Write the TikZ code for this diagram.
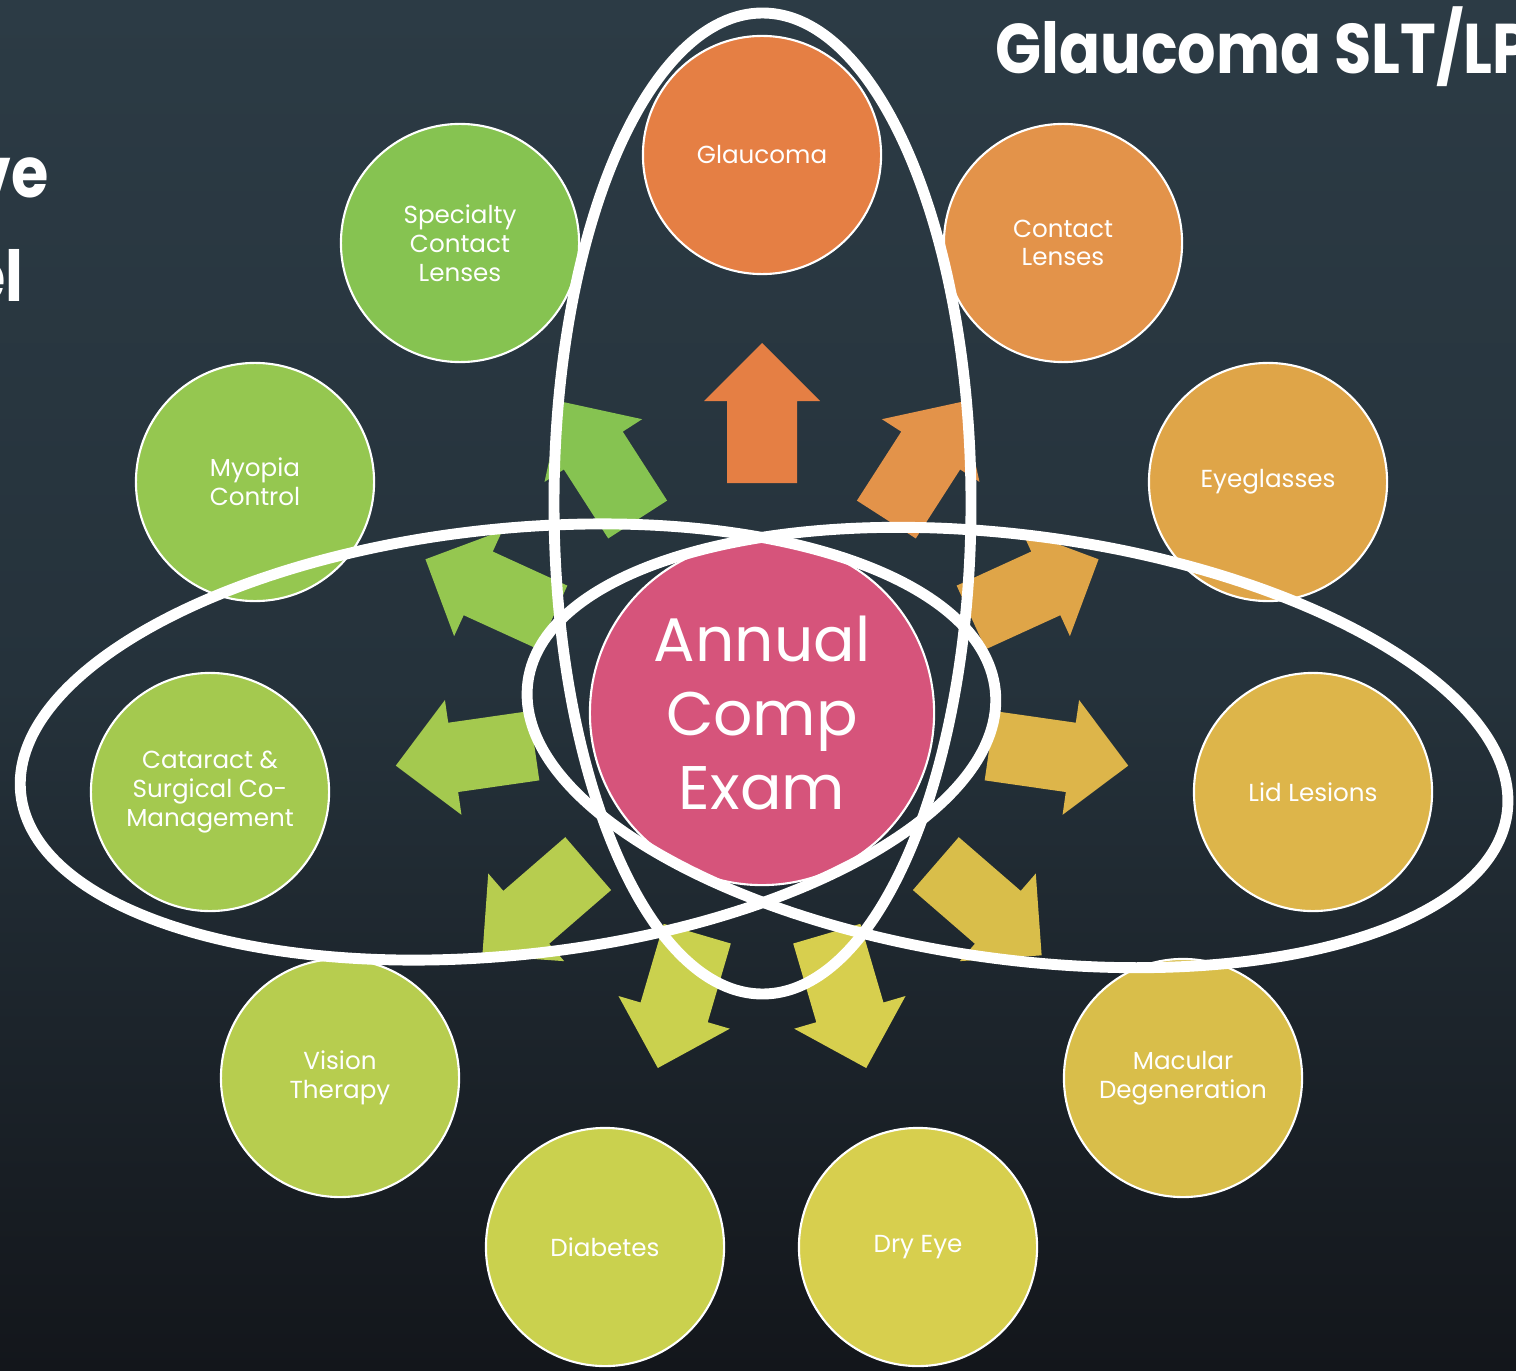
\documentclass[tikz,border=0pt]{standalone}
\usepackage{fontspec}
\setmainfont{Poppins}
\definecolor{bgtop}{HTML}{2C3B45}
\definecolor{bgmid}{HTML}{25323B}
\definecolor{bgbot}{HTML}{13161B}
\definecolor{cExam}{HTML}{D6547B}
\definecolor{cGlaucoma}{HTML}{E57F44}
\definecolor{cContact}{HTML}{E3934A}
\definecolor{cGlasses}{HTML}{DFA548}
\definecolor{cLid}{HTML}{DDB54A}
\definecolor{cMacular}{HTML}{D9BE4A}
\definecolor{cDry}{HTML}{D7CF4E}
\definecolor{cDiabetes}{HTML}{CAD14E}
\definecolor{cVision}{HTML}{B7CD4F}
\definecolor{cCataract}{HTML}{A4C94F}
\definecolor{cMyopia}{HTML}{95C750}
\definecolor{cSpecialty}{HTML}{86C351}
\tikzset{
  topic/.style={circle, draw=white, line width=0.6pt, minimum size=2.38cm, inner sep=0pt,
    align=center, text=white, font=\fontsize{7}{8.2}\selectfont},
  heading/.style={text=white, inner sep=0pt, transform shape, xscale=0.86,
    font=\fontsize{20}{24}\selectfont\bfseries},
  ring/.style={draw=white, line width=3.1pt},
  pics/spoke/.style={code={
    \fill[pic actions] (230,-35) -- (312,-35) -- (312,-58) -- (370,0)
      -- (312,58) -- (312,35) -- (230,35) -- cycle;}}
}

\begin{document}
\begin{tikzpicture}[x=0.01cm, y=0.01cm]
\useasboundingbox (0,-1370) rectangle (1516,0);
\clip (0,-1370) rectangle (1516,0);
% background
\shade[top color=bgtop, bottom color=bgbot, middle color=bgmid] (0,-1370) rectangle (1516,0);
% headings, cut off at the edges
\node[heading, anchor=base west] (slt) at (995,-74) {Glaucoma SLT/LP};
\node[heading, anchor=base east] (lineA) at (49,-198) {ve};
\node[heading, anchor=base east] (lineB) at (24,-302) {el};
% centre circle
\node[circle, fill=cExam, draw=white, line width=0.6pt, minimum size=3.44cm, inner sep=0pt,
  align=center, text=white, font=\fontsize{17.5}{21}\selectfont] (exam) at (762,-713) {Annual\\Comp\\Exam};
% arrows out of the centre
\pic[fill=cGlaucoma, rotate=90] at (exam) {spoke};
\pic[fill=cContact, rotate=57.27] at (exam) {spoke};
\pic[fill=cGlasses, rotate=24.55] at (exam) {spoke};
\pic[fill=cLid, rotate=-8.18] at (exam) {spoke};
\pic[fill=cMacular, rotate=-40.91] at (exam) {spoke};
\pic[fill=cDry, rotate=-73.64] at (exam) {spoke};
\pic[fill=cDiabetes, rotate=-106.36] at (exam) {spoke};
\pic[fill=cVision, rotate=-139.09] at (exam) {spoke};
\pic[fill=cCataract, rotate=-171.82] at (exam) {spoke};
\pic[fill=cMyopia, rotate=155.45] at (exam) {spoke};
\pic[fill=cSpecialty, rotate=122.73] at (exam) {spoke};
% outer circles
\node[topic, fill=cGlaucoma] (glaucoma) at (762,-155) {Glaucoma};
\node[topic, fill=cContact] (contact) at (1063,-243) {Contact\\Lenses};
\node[topic, fill=cGlasses] (glasses) at (1268,-482) {Eyeglasses};
\node[topic, fill=cLid] (lid) at (1313,-792) {Lid Lesions};
\node[topic, fill=cMacular] (macular) at (1183,-1078) {Macular\\Degeneration};
\node[topic, fill=cDry] (dry) at (918,-1247) {Dry Eye};
\node[topic, fill=cDiabetes] (diabetes) at (605,-1247) {Diabetes};
\node[topic, fill=cVision] (vision) at (340,-1078) {Vision\\Therapy};
\node[topic, fill=cCataract] (cataract) at (210,-792) {Cataract \&\\Surgical Co-\\Management};
\node[topic, fill=cMyopia] (myopia) at (255,-482) {Myopia\\Control};
\node[topic, fill=cSpecialty] (specialty) at (460,-243) {Specialty\\Contact\\Lenses};
% white rings on top
\draw[ring] (762.5,-503.5) ellipse (208.5 and 490.5);
\draw[ring, rotate around={6.07:(508,-742)}] (508,-742) ellipse (490 and 213);
\draw[ring, rotate around={-7.64:(1017.5,-747.5)}] (1017.5,-747.5) ellipse (494 and 212);
\end{tikzpicture}
\end{document}
